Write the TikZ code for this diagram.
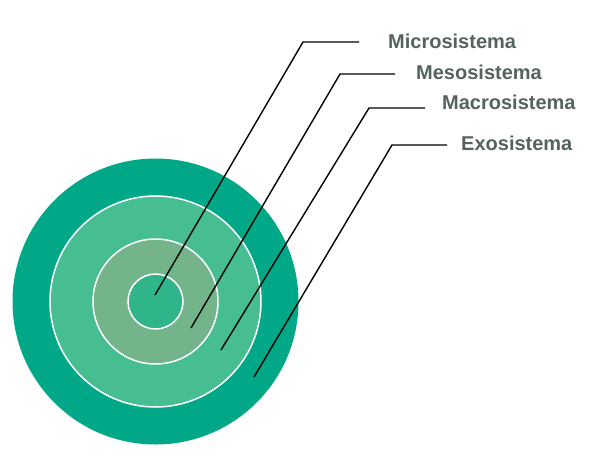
\documentclass[tikz,border=0pt]{standalone}
\usepackage{fontspec}
\setmainfont{Liberation Sans}
\definecolor{ringA}{HTML}{00A887}
\definecolor{ringB}{HTML}{46BE91}
\definecolor{ringC}{HTML}{74B48A}
\definecolor{ringD}{HTML}{2FB589}
\definecolor{lbltext}{HTML}{55625E}
\tikzset{
  lbl/.style={anchor=base west, inner sep=0pt, text=lbltext, font=\fontsize{20}{24}\selectfont\bfseries},
  leader/.style={black, line width=1.4pt},
  ringline/.style={white, line width=1.5pt}
}
\begin{document}
\begin{tikzpicture}[x=1pt,y=-1pt]
  \useasboundingbox (0,0) rectangle (594,475);

  \coordinate (c) at (155.5,301.5);

  %% rings, outside in
  \fill[ringA] (c) circle (143);
  \fill[ringB] (c) circle (105.5);
  \draw[ringline] (c) circle (105.5);
  \fill[ringC] (c) circle (62.5);
  \draw[ringline] (c) circle (62.5);
  \fill[ringD] (c) circle (27.5);
  \draw[ringline] (c) circle (27.5);

  %% labels
  \node[lbl] (micro) at (388,48) {Microsistema};
  \node[lbl] (meso)  at (416,79) {Mesosistema};
  \node[lbl] (macro) at (442,109) {Macrosistema};
  \node[lbl] (exo)   at (461,150) {Exosistema};

  %% leader lines
  \coordinate (microEnd) at (155,295);
  \coordinate (microKnee) at (303,42);
  \coordinate (microTip) at (359,42);
  \coordinate (mesoEnd) at (191,328);
  \coordinate (mesoKnee) at (340,74);
  \coordinate (mesoTip) at (395,74);
  \coordinate (macroEnd) at (221,350);
  \coordinate (macroKnee) at (369,108);
  \coordinate (macroTip) at (425,108);
  \coordinate (exoEnd) at (254,377);
  \coordinate (exoKnee) at (392,145);
  \coordinate (exoTip) at (447,145);

  \draw[leader] (microEnd) -- (microKnee) -- (microTip); %% micro
  \draw[leader] (mesoEnd) -- (mesoKnee) -- (mesoTip);    %% meso
  \draw[leader] (macroEnd) -- (macroKnee) -- (macroTip); %% macro
  \draw[leader] (exoEnd) -- (exoKnee) -- (exoTip);       %% exo
\end{tikzpicture}
\end{document}
